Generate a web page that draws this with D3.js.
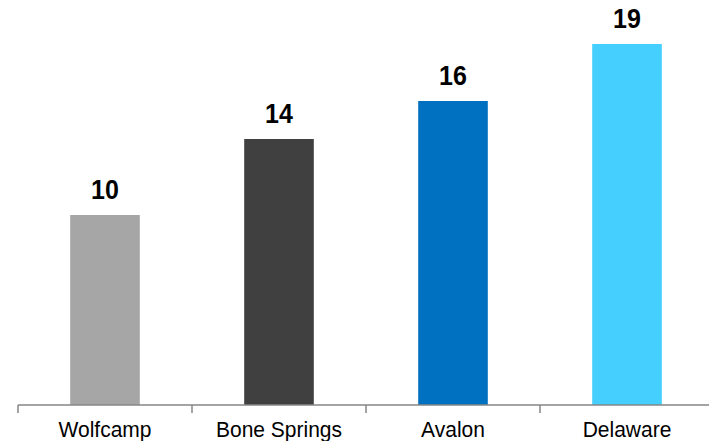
<!DOCTYPE html>
<html><head><meta charset="utf-8">
<script src="https://cdn.jsdelivr.net/npm/d3@7"></script>
<style>body{margin:0;background:#fff}svg{display:block}</style>
</head><body>
<svg id="c" width="709" height="441"></svg>
<script>
const categories = ["Wolfcamp", "Bone Springs", "Avalon", "Delaware"];
const values = [10, 14, 16, 19];
const colors = ["#A6A6A6", "#404040", "#0070C0", "#45CFFF"];

const svg = d3.select("#c");
const baseY = 405;
const x = d3.scaleBand().domain(categories).range([18, 714]).paddingInner(0.6).paddingOuter(0.3);
const y = d3.scaleLinear().domain([0, 19]).range([baseY, 44]);

svg.selectAll("rect.bar").data(values).join("rect")
  .attr("class", "bar")
  .attr("x", (d, i) => x(categories[i]))
  .attr("width", x.bandwidth())
  .attr("y", d => y(d))
  .attr("height", d => baseY - y(d))
  .attr("fill", (d, i) => colors[i]);

svg.selectAll("text.val").data(values).join("text")
  .attr("class", "val")
  .attr("transform", (d, i) => `translate(${x(categories[i]) + x.bandwidth() / 2},${y(d) - 16}) scale(1,1.08)`)
  .attr("text-anchor", "middle")
  .attr("font-family", "Liberation Sans, Arial, sans-serif")
  .attr("font-weight", "bold")
  .attr("font-size", 25)
  .attr("fill", "#000")
  .text(d => d);

const axisG = svg.append("g").attr("transform", `translate(0,${baseY})`);
const step = x.step();
const tickPos = d3.range(categories.length + 1).map(i => 18 + i * step);
axisG.append("line").attr("x1", 18).attr("x2", 709).attr("y1", 0).attr("y2", 0)
  .attr("stroke", "#868686").attr("stroke-width", 1.5);
axisG.selectAll("line.tick").data(tickPos).join("line")
  .attr("class", "tick")
  .attr("x1", d => d).attr("x2", d => d).attr("y1", 0).attr("y2", 8)
  .attr("stroke", "#868686").attr("stroke-width", 1.5);
axisG.selectAll("text.lab").data(categories).join("text")
  .attr("class", "lab")
  .attr("transform", d => `translate(${x(d) + x.bandwidth() / 2},32) scale(1,1.05)`)
  .attr("text-anchor", "middle")
  .attr("font-family", "Liberation Sans, Arial, sans-serif")
  .attr("font-size", 21)
  .attr("fill", "#000")
  .text(d => d);
</script>
</body></html>
